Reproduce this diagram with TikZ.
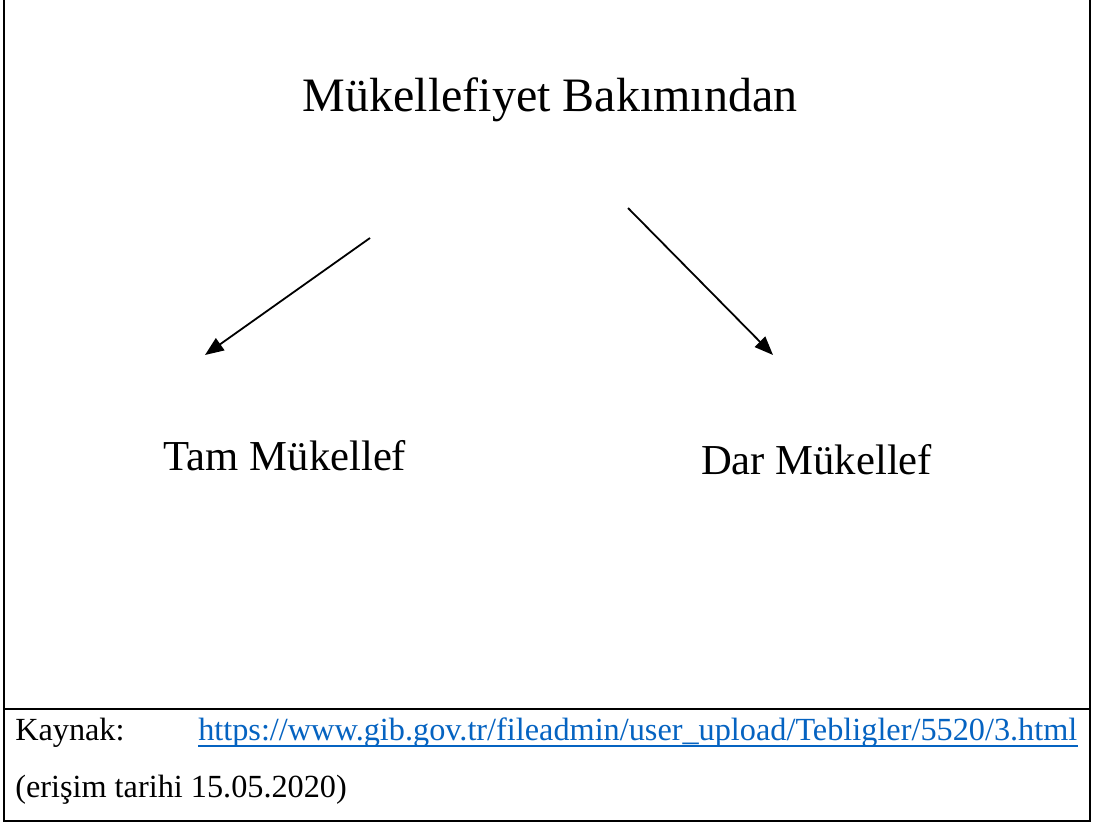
\documentclass[tikz,border=0pt]{standalone}
\usepackage{fontspec}
\setmainfont{Liberation Serif}
\usetikzlibrary{arrows.meta}
\definecolor{linkblue}{RGB}{5,99,193}
\tikzset{
  lbl/.style={inner sep=0pt, anchor=base},
  big/.style={lbl, font=\fontsize{36}{40}\selectfont},
  mid/.style={lbl, font=\fontsize{32}{36}\selectfont},
  small/.style={lbl, anchor=base west, font=\fontsize{24.2}{28}\selectfont},
}
\begin{document}
\begin{tikzpicture}[x=0.75pt,y=-0.75pt]
			\useasboundingbox (0,0) rectangle (1095,823);
			% frame, open at the top
			\draw[line width=1.5pt] (3.5,0) -- (3.5,820.5) -- (1089.5,820.5) -- (1089.5,0);
			\draw[line width=1.5pt] (3.5,709) -- (1091,709);

			\node[big] (root) at (550,112) {Mükellefiyet Bakımından};
			\node[mid] (tam) at (285,470) {Tam Mükellef};
			\node[mid] (dar) at (816.5,474) {Dar Mükellef};

			\coordinate (tamS) at (370,238);
			\coordinate (tamE) at (205,355);
			\coordinate (darS) at (628,208);
			\coordinate (darE) at (773,355);
			\begin{scope}[-{Triangle[length=14pt,width=11pt]},line width=1.35pt]
			    \draw (tamS) -- (tamE);
			    \draw (darS) -- (darE);
			\end{scope}

			\node[small] (kaynak) at (15,740) {Kaynak:};
			\node[small,text=linkblue] (link) at (198,740) {https://www.gib.gov.tr/fileadmin/user\_upload/Tebligler/5520/3.html};
			\draw[linkblue,line width=1.4pt] ([yshift=-4.5pt]link.base west) -- ([yshift=-4.5pt]link.base east);
			\node[small] (erisim) at (15,797) {(erişim tarihi 15.05.2020)};
		    \end{tikzpicture}
\end{document}
